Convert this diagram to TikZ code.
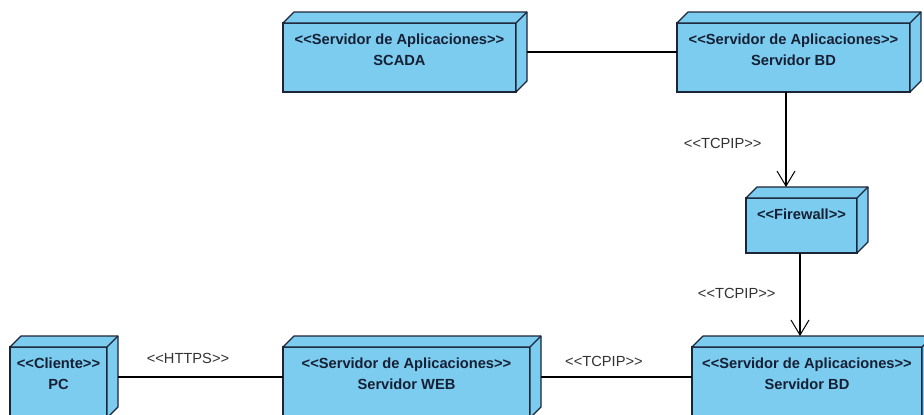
\documentclass[tikz,border=0pt]{standalone}
\usepackage{fontspec}
\newfontfamily\umlfont{Liberation Sans}
\usetikzlibrary{arrows.meta,calc}

\definecolor{nodefill}{RGB}{124,204,240}
\definecolor{nodeedge}{RGB}{28,36,56}
\definecolor{nodetext}{RGB}{22,32,52}
\definecolor{edgetext}{RGB}{50,50,50}

\tikzset{
  deploy/.style={draw=nodeedge, fill=nodefill, line width=1.2pt, rectangle,
    inner sep=0pt, outer sep=0pt, label={[nodelabel]north:#1}},
  nodelabel/.style={anchor=north, yshift=-10.3pt, inner sep=0pt, align=center,
    text=nodetext, font=\umlfont\bfseries\fontsize{14.67}{21}\selectfont},
  face/.style={draw=nodeedge, fill=nodefill, line width=1.2pt, line join=round},
  link/.style={draw=black, line width=1.1pt},
  dep/.style={link, -{Straight Barb[length=15pt,width=18pt,line width=1pt]}},
  stereo/.style={font=\umlfont\fontsize{14.67}{18}\selectfont, text=edgetext, inner sep=0pt},
}

\begin{document}
\begin{tikzpicture}[x=1pt, y=-1pt]
\fill[white] (0,0) rectangle (924,415);
\useasboundingbox (0,0) rectangle (924,415);

% deployment nodes (front faces)
\node[deploy={<<Servidor de Aplicaciones>>\\SCADA}, minimum width=233pt, minimum height=69pt] (scada) at (399.5,57.5) {};
\node[deploy={<<Servidor de Aplicaciones>>\\Servidor BD}, minimum width=233pt, minimum height=69pt] (bdtop) at (793.5,57.5) {};
\node[deploy={<<Firewall>>}, minimum width=111pt, minimum height=55pt] (fw) at (801.5,225.5) {};
\node[deploy={<<Cliente>>\\PC}, minimum width=97pt, minimum height=71pt] (pc) at (58.5,382.5) {};
\node[deploy={<<Servidor de Aplicaciones>>\\Servidor WEB}, minimum width=247pt, minimum height=71pt] (web) at (406.5,382.5) {};
\node[deploy={<<Servidor de Aplicaciones>>\\Servidor BD}, minimum width=230pt, minimum height=71pt] (bdbot) at (807,382.5) {};

% top and side faces of the boxes
\foreach \n in {scada,bdtop,fw,pc,web,bdbot}{
  \filldraw[face] (\n.north west) -- ++(11pt,11pt)
    -- ([shift={(11pt,11pt)}]\n.north east)
    -- ([shift={(11pt,11pt)}]\n.south east)
    -- (\n.south east) -- (\n.north east) -- cycle;
  \draw[face] (\n.north east) -- ++(11pt,11pt);
}

% connectors
\draw[link] ([shift={(11pt,5.5pt)}]scada.east) -- ([yshift=5.5pt]bdtop.west);

\coordinate (t1) at ([xshift=-7.5pt]bdtop.south);
\coordinate (fwtop) at ([yshift=11pt]fw.north);
\draw[dep] (t1) -- (t1 |- fwtop)
  node[stereo, pos=0.537, left=24pt] {<<TCPIP>>};

\coordinate (t2) at ([xshift=-1.5pt]fw.south);
\coordinate (bdbtop) at ([yshift=11pt]bdbot.north);
\draw[dep] (t2) -- (t2 |- bdbtop)
  node[stereo, pos=0.49, left=24pt] {<<TCPIP>>};

\draw[link] ([shift={(11pt,5.5pt)}]pc.east) -- ([yshift=5.5pt]web.west)
  node[stereo, pos=0.424, yshift=19pt] {<<HTTPS>>};

\draw[link] ([shift={(11pt,5.5pt)}]web.east) -- ([yshift=5.5pt]bdbot.west)
  node[stereo, pos=0.417, yshift=16pt] {<<TCPIP>>};
\end{tikzpicture}
\end{document}
